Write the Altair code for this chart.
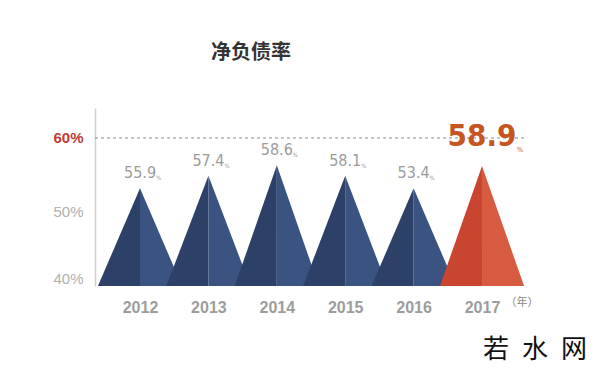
import altair as alt
import pandas as pd

# ---- data ----
years = [2012, 2013, 2014, 2015, 2016, 2017]
values = [55.9, 57.4, 58.6, 58.1, 53.4, 58.9]          # labelled net-debt ratio (%)
peaks = [53.2, 54.9, 56.3, 54.9, 53.2, 56.2]           # drawn peak height of each triangle (%)
highlight = [False, False, False, False, False, True]
y_ticks = [40, 50, 60]
reference_line = 60

HALF = 0.615   # half-width of each triangle, in years
BASE = 40

# triangle outlines (left half / right half), built from the arrays
rows = []
for yr, pk, hl in zip(years, peaks, highlight):
    fam = "red" if hl else "navy"
    rows += [
        {"year": yr, "x": yr - HALF, "y": BASE, "part": fam + "L", "base": BASE},
        {"year": yr, "x": yr, "y": pk, "part": fam + "L", "base": BASE},
        {"year": yr, "x": yr, "y": pk, "part": fam + "R", "base": BASE},
        {"year": yr, "x": yr + HALF, "y": BASE, "part": fam + "R", "base": BASE},
    ]
tri = pd.DataFrame(rows)
lab = pd.DataFrame({"year": years, "value": values, "peak": peaks, "hl": highlight})
lab["text"] = lab["value"].map(lambda v: f"{v:.1f}")

X0, X1 = 2011.342, 2018.14
xs = alt.Scale(domain=[X0, X1], nice=False, zero=False)
ys = alt.Scale(domain=[40, 64.05], nice=False, zero=False)

color_scale = alt.Scale(
    domain=["navyL", "navyR", "redL", "redR"],
    range=["#2c4068", "#3b5380", "#c9452f", "#d75b40"],
)

xaxis = alt.Axis(values=years, format="d", domain=False, ticks=False, grid=False,
                 labelFont="Liberation Sans", labelFontSize=16, labelFontWeight="bold",
                 labelColor="#9c9c9c", labelPadding=13, title=None)
yaxis = alt.Axis(values=y_ticks, labelExpr="datum.value + '%'", ticks=False, grid=False,
                 domainColor="#cfcfcf", domainWidth=1.5,
                 labelFont="Liberation Sans", labelFontSize=15,
                 labelColor=alt.condition("datum.value == 60", alt.value("#c23b35"), alt.value("#b0b0b0")),
                 labelFontWeight=alt.condition("datum.value == 60", alt.value("bold"), alt.value("normal")),
                 labelBaseline=alt.condition("datum.value == 40", alt.value("bottom"), alt.value("middle")),
                 labelPadding=12, title=None)

# axes carrier
axes = alt.Chart(lab).mark_point(opacity=0).encode(
    x=alt.X("year:Q", scale=xs, axis=xaxis),
    y=alt.Y("value:Q", scale=ys, axis=yaxis),
)

layers = [axes]
for yr in years:
    layers.append(
        alt.Chart(tri).transform_filter(alt.datum.year == yr).mark_area(interpolate="linear").encode(
            x=alt.X("x:Q", scale=xs),
            y=alt.Y("y:Q", scale=ys, stack=None),
            y2=alt.Y2("base"),
            detail="part:N",
            color=alt.Color("part:N", scale=color_scale, legend=None),
        )
    )

rule = alt.Chart(lab).transform_filter("datum.hl").mark_rule(
    color="#8a8a8a", strokeDash=[3, 3], strokeWidth=1
).encode(
    x=alt.datum(X0, scale=xs),
    x2=alt.datum(2017 + HALF + 0.04),
    y=alt.datum(reference_line),
)

cond_font = "Liberation Sans Narrow, DejaVu Sans Condensed, Roboto, sans-serif"

small = alt.Chart(lab).transform_filter("!datum.hl").mark_text(
    font=cond_font, fontSize=16, color="#9b9b9b", baseline="middle", dy=-15, dx=0
).encode(x=alt.X("year:Q", scale=xs), y=alt.Y("peak:Q", scale=ys), text="text:N")

small_pct = alt.Chart(lab).transform_filter("!datum.hl").mark_text(
    font=cond_font, fontSize=6, color="#9b9b9b", baseline="middle", align="left", dy=-10, dx=16
).encode(x=alt.X("year:Q", scale=xs), y=alt.Y("peak:Q", scale=ys), text=alt.value("%"))

big = alt.Chart(lab).transform_filter("datum.hl").mark_text(
    font=cond_font, fontSize=31, fontWeight="bold", color="#c5561f", baseline="middle", dy=-29
).encode(x=alt.X("year:Q", scale=xs), y=alt.Y("peak:Q", scale=ys), text="text:N")

big_pct = alt.Chart(lab).transform_filter("datum.hl").mark_text(
    font=cond_font, fontSize=7, color="#c5561f", baseline="middle", align="left", dy=-16, dx=35
).encode(x=alt.X("year:Q", scale=xs), y=alt.Y("peak:Q", scale=ys), text=alt.value("%"))

unit = alt.Chart(lab).transform_filter("datum.hl").mark_text(
    font="Noto Sans CJK SC", fontSize=11, color="#8a8a8a"
).encode(x=alt.value(427), y=alt.value(195), text=alt.value("（年）"))

mark = alt.Chart(lab).transform_filter("datum.hl").mark_text(
    font="Noto Sans CJK SC", fontSize=26, color="#111111"
).encode(x=alt.value(440), y=alt.value(242), text=alt.value("若\u2002水\u2002网"))

chart = alt.layer(*layers, rule, small, small_pct, big, big_pct, unit, mark).properties(
    width=465, height=178,
    autosize=alt.AutoSizeParams(type="none"),
    padding={"left": 87, "top": 100, "right": 32, "bottom": 85},
    background="white",
    title=alt.TitleParams("净负债率", anchor="start", dx=158, offset=45,
                          font="Noto Sans CJK SC", fontSize=20, fontWeight="bold", color="#333333"),
).configure_view(stroke=None)

chart.save("out.html", embed_options={"renderer": "svg", "actions": False})
